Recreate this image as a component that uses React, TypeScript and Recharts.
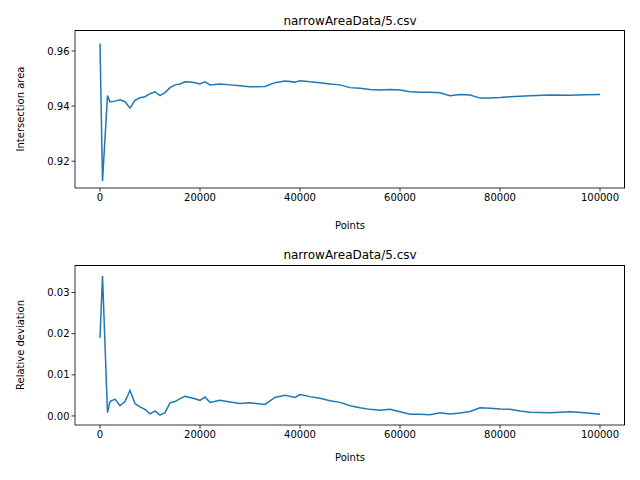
import { LineChart, Line, XAxis, YAxis, Label } from "recharts";

const points = [0, 500, 1500, 2000, 3000, 4000, 5000, 6000, 7000, 8000, 9000, 10000, 11000, 12000, 13000, 14000, 15000, 16000, 17000, 18000, 19000, 20000, 21000, 22000, 24000, 26000, 28000, 30000, 33000, 35000, 37000, 39000, 40000, 42000, 44000, 46000, 48000, 50000, 52000, 54000, 56000, 58000, 60000, 62000, 64000, 66000, 68000, 70000, 72000, 74000, 76000, 78000, 80000, 82000, 84000, 86000, 90000, 94000, 97000, 100000];

const area = [0.9627, 0.9128, 0.9438, 0.9415, 0.9418, 0.9423, 0.9416, 0.9393, 0.9421, 0.943, 0.9434, 0.9445, 0.9452, 0.9438, 0.9449, 0.9467, 0.9477, 0.948, 0.9488, 0.9487, 0.9485, 0.948, 0.9488, 0.9477, 0.948, 0.9477, 0.9474, 0.947, 0.9471, 0.9485, 0.9491, 0.9487, 0.9492, 0.9488, 0.9485, 0.948, 0.9477, 0.9467, 0.9465, 0.946, 0.9458, 0.946, 0.9458, 0.9452, 0.945, 0.945, 0.9448, 0.9438, 0.9442, 0.944, 0.9429, 0.9429, 0.9431, 0.9434, 0.9436, 0.9438, 0.944, 0.9439, 0.9441, 0.9442];

const deviation = [0.019, 0.034, 0.0008, 0.0035, 0.0041, 0.0025, 0.0035, 0.0062, 0.003, 0.0022, 0.0016, 0.0005, 0.0012, 0.0002, 0.0008, 0.0032, 0.0035, 0.0042, 0.0048, 0.0045, 0.0042, 0.0038, 0.0046, 0.0033, 0.0038, 0.0034, 0.003, 0.0032, 0.0028, 0.0045, 0.005, 0.0045, 0.0052, 0.0047, 0.0043, 0.0037, 0.0033, 0.0025, 0.002, 0.0016, 0.0014, 0.0016, 0.001, 0.0004, 0.0004, 0.0003, 0.0008, 0.0005, 0.0007, 0.0011, 0.002, 0.0019, 0.0017, 0.0016, 0.0012, 0.0009, 0.0008, 0.001, 0.0008, 0.0004];

const xTicks = [0, 20000, 40000, 60000, 80000, 100000];
const areaTicks = [0.92, 0.94, 0.96];
const devTicks = [0, 0.01, 0.02, 0.03];

const topData = points.map((x, i) => ({ x, v: area[i] }));
const bottomData = points.map((x, i) => ({ x, v: deviation[i] }));

const font = { fontFamily: "DejaVu Sans", fontSize: 10, fill: "#000" };
const axisLine = { stroke: "#000", strokeWidth: 0.8 };

function Panel({ data, domain, ticks, ylabel, top, plotTop, plotH, xHeight, labelOffset, titleTop }: any) {
  return (
    <div style={{ position: "absolute", left: 0, top, width: 640, height: 240 }}>
      <div style={{ position: "absolute", top: titleTop, left: 0, width: 700, textAlign: "center", fontFamily: "DejaVu Sans", fontSize: 12 }}>
        narrowAreaData/5.csv
      </div>
      <LineChart width={640} height={240} data={data} margin={{ top: plotTop, right: 15, left: 0, bottom: 0 }}>
        <XAxis dataKey="x" type="number" domain={[-5000, 105000]} ticks={xTicks} height={xHeight}
          tick={font} tickSize={3.5} axisLine={axisLine} tickLine={axisLine} allowDataOverflow>
          <Label value="Points" position="insideBottom" offset={labelOffset} style={font} />
        </XAxis>
        <YAxis type="number" domain={domain} ticks={ticks} width={75} tick={font} tickSize={3.5}
          tickFormatter={(v: number) => v.toFixed(2)} axisLine={axisLine} tickLine={axisLine} allowDataOverflow>
          <Label value={ylabel} angle={-90} position="insideLeft" offset={20} style={{ ...font, textAnchor: "middle" }} />
        </YAxis>
        <Line dataKey="v" stroke="#1f77b4" strokeWidth={1.5} dot={false} type="linear" isAnimationActive={false} />
      </LineChart>
      <div style={{ position: "absolute", left: 75, top: plotTop, width: 550, height: plotH, boxSizing: "border-box", borderTop: "1px solid #000", borderRight: "1px solid #000", pointerEvents: "none" }} />
    </div>
  );
}

export default function App() {
  return (
    <div style={{ position: "absolute", left: 0, top: 0, width: 640, height: 480, background: "#fff" }}>
      <Panel data={topData} domain={[0.9103, 0.9676]} ticks={areaTicks} ylabel="Intersection area" top={0} plotTop={30} plotH={158} xHeight={52} labelOffset={11} titleTop={14} />
      <Panel data={bottomData} domain={[-0.0022, 0.0367]} ticks={devTicks} ylabel="Relative deviation" top={240} plotTop={25} plotH={160} xHeight={55} labelOffset={19} titleTop={8} />
    </div>
  );
}
